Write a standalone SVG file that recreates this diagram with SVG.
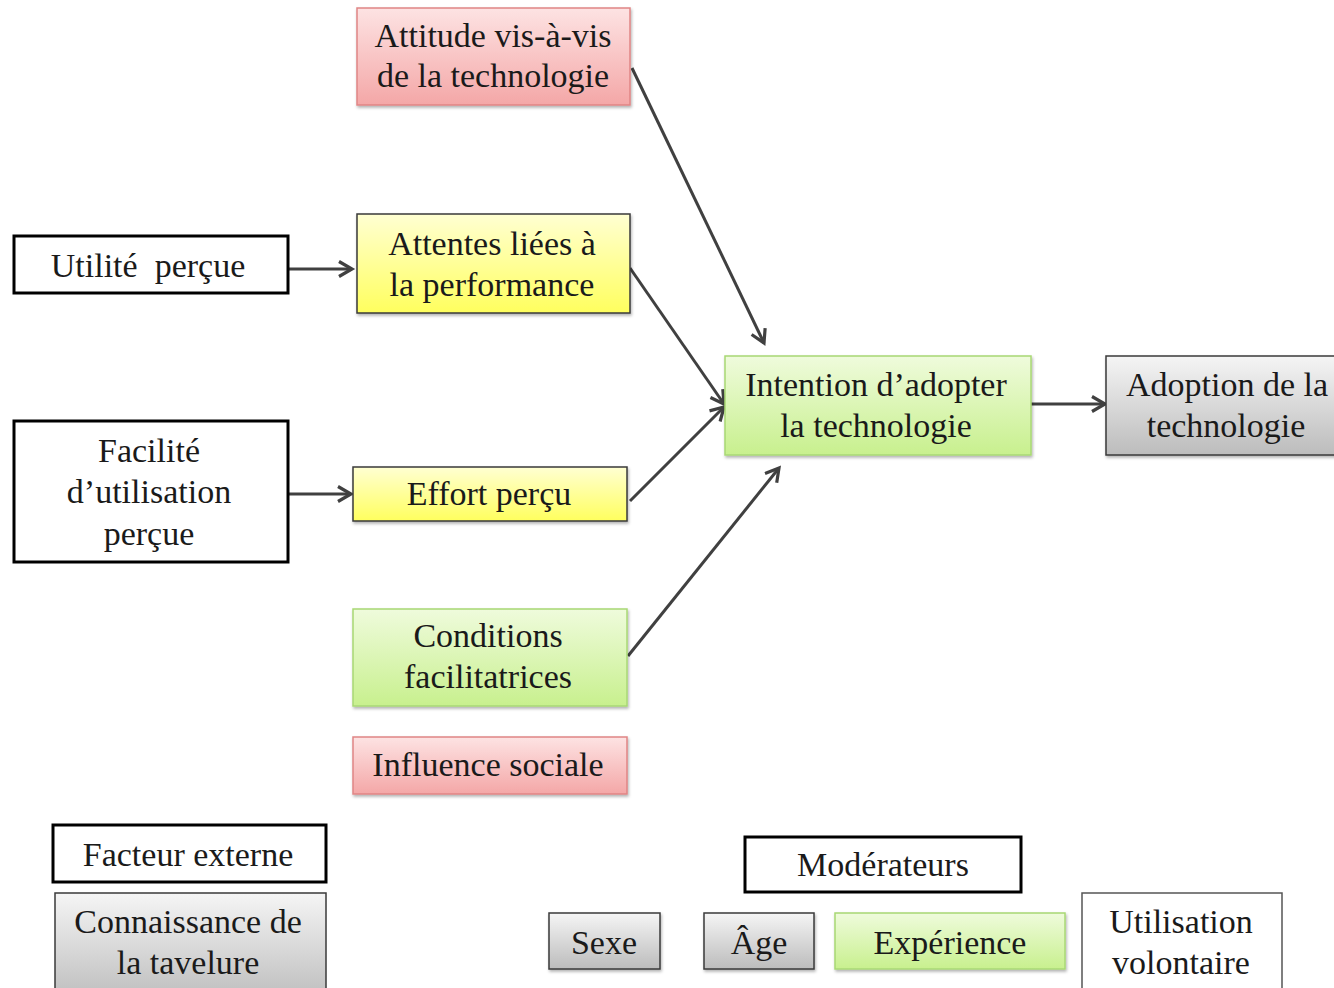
<svg xmlns="http://www.w3.org/2000/svg" width="1334" height="988" viewBox="0 0 1334 988">
<style>
text{font-family:"Liberation Serif","Times New Roman",serif;font-size:34px;fill:#1a1a1a;text-anchor:middle;white-space:pre}
.pink{fill:url(#gPink);stroke:#e08585;stroke-width:1.5}
.yellow{fill:url(#gYellow);stroke:#3a3a3a;stroke-width:1.5}
.green{fill:url(#gGreen);stroke:#a8d874;stroke-width:1.5}
.gray{fill:url(#gGray);stroke:#3a3a3a;stroke-width:1.5}
.white{fill:#fff;stroke:#000;stroke-width:3}
.thin{fill:#fff;stroke:#555;stroke-width:1.5}
.conn{stroke:#404040;stroke-width:3;fill:none;marker-end:url(#arr)}
</style>
<defs>
<linearGradient id="gPink" x1="0" y1="0" x2="0" y2="1"><stop offset="0" stop-color="#fde3e3"/><stop offset="1" stop-color="#f4a7a7"/></linearGradient>
<linearGradient id="gYellow" x1="0" y1="0" x2="0" y2="1"><stop offset="0" stop-color="#ffffd2"/><stop offset="1" stop-color="#ffff5e"/></linearGradient>
<linearGradient id="gGreen" x1="0" y1="0" x2="0" y2="1"><stop offset="0" stop-color="#effbdc"/><stop offset="1" stop-color="#c8f08e"/></linearGradient>
<linearGradient id="gGray" x1="0" y1="0" x2="0" y2="1"><stop offset="0" stop-color="#f5f5f5"/><stop offset="1" stop-color="#bcbcbc"/></linearGradient>
<filter id="sh" x="-10%" y="-10%" width="120%" height="130%"><feDropShadow dx="1" dy="2" stdDeviation="1.5" flood-color="#000" flood-opacity="0.3"/></filter>
<marker id="arr" markerUnits="userSpaceOnUse" markerWidth="20" markerHeight="20" refX="15" refY="9" orient="auto"><path d="M2,1.5 L15,9 L2,16.5" fill="none" stroke="#404040" stroke-width="3.2"/></marker>
</defs>
<g id="connectors">
<line class="conn" x1="288" y1="269" x2="352" y2="269"/>
<line class="conn" x1="288" y1="494" x2="351" y2="494"/>
<line class="conn" x1="632" y1="68" x2="764" y2="343"/>
<line class="conn" x1="630" y1="268" x2="724" y2="404"/>
<line class="conn" x1="630" y1="501" x2="724" y2="407"/>
<line class="conn" x1="628" y1="656" x2="779" y2="468"/>
<line class="conn" x1="1031" y1="404" x2="1105" y2="404"/>
</g>
<g id="attitude"><rect class="pink" filter="url(#sh)" x="357" y="8" width="273" height="97"/><text x="493" y="47">Attitude vis-à-vis</text><text x="493" y="87">de la technologie</text></g>
<g id="attentes"><rect class="yellow" filter="url(#sh)" x="357" y="214" width="273" height="99"/><text x="492" y="255">Attentes liées à</text><text x="492" y="296">la performance</text></g>
<g id="utilite"><rect class="white" x="14" y="236" width="274" height="57"/><text x="148" y="277">Utilité  perçue</text></g>
<g id="facilite"><rect class="white" x="14" y="421" width="274" height="141"/><text x="149" y="462">Facilité</text><text x="149" y="503">d’utilisation</text><text x="149" y="545">perçue</text></g>
<g id="effort"><rect class="yellow" filter="url(#sh)" x="353" y="467" width="274" height="54"/><text x="489" y="505">Effort perçu</text></g>
<g id="conditions"><rect class="green" filter="url(#sh)" x="353" y="609" width="274" height="97"/><text x="488" y="647">Conditions</text><text x="488" y="688">facilitatrices</text></g>
<g id="influence"><rect class="pink" filter="url(#sh)" x="353" y="737" width="274" height="57"/><text x="488" y="776">Influence sociale</text></g>
<g id="intention"><rect class="green" filter="url(#sh)" x="725" y="356" width="306" height="99"/><text x="876" y="396">Intention d’adopter</text><text x="876" y="437">la technologie</text></g>
<g id="adoption"><rect class="gray" filter="url(#sh)" x="1106" y="356" width="240" height="99"/><text x="1227" y="396">Adoption de la</text><text x="1226" y="437">technologie</text></g>
<g id="facteur"><rect class="white" x="53" y="825" width="273" height="57"/><text x="188" y="866">Facteur externe</text></g>
<g id="connaissance"><rect class="gray" x="55" y="893" width="271" height="110"/><text x="188" y="933">Connaissance de</text><text x="188" y="974">la tavelure</text></g>
<g id="moderateurs"><rect class="white" x="745" y="837" width="276" height="55"/><text x="883" y="876">Modérateurs</text></g>
<g id="sexe"><rect class="gray" filter="url(#sh)" x="549" y="913" width="111" height="56"/><text x="604" y="954">Sexe</text></g>
<g id="age"><rect class="gray" filter="url(#sh)" x="704" y="913" width="110" height="56"/><text x="759" y="954">Âge</text></g>
<g id="experience"><rect class="green" filter="url(#sh)" x="835" y="913" width="230" height="56"/><text x="950" y="954">Expérience</text></g>
<g id="utilisation"><rect class="thin" x="1082" y="893" width="200" height="110"/><text x="1181" y="933">Utilisation</text><text x="1181" y="974">volontaire</text></g>
</svg>
